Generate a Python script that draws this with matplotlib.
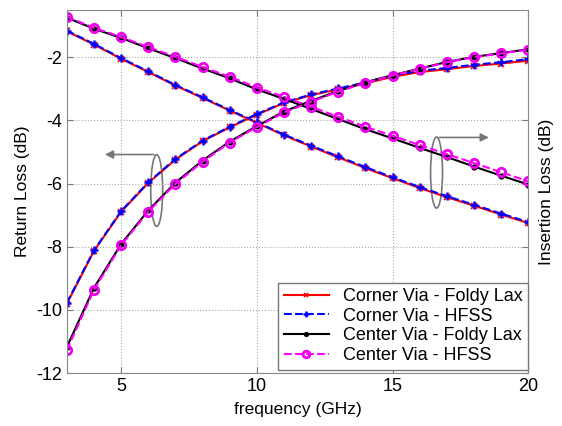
import numpy as np
import matplotlib
matplotlib.use('Agg')
import matplotlib.pyplot as plt
from matplotlib.patches import Ellipse

plt.rcParams['font.family'] = ['Liberation Sans', 'DejaVu Sans']
plt.rcParams['font.size'] = 12.5
plt.rcParams['axes.unicode_minus'] = False

# frequency points (GHz)
freq = np.arange(3, 21)

# insertion loss (dB)
il_corner_fl = [-1.18, -1.60, -2.05, -2.47, -2.90, -3.29, -3.69, -4.08, -4.47, -4.83, -5.17,
                -5.51, -5.83, -6.14, -6.43, -6.70, -6.98, -7.25]
il_corner_hfss = [-1.16, -1.58, -2.03, -2.45, -2.88, -3.27, -3.67, -4.06, -4.45, -4.80, -5.14,
                  -5.48, -5.80, -6.11, -6.40, -6.67, -6.95, -7.22]
il_center_fl = [-0.75, -1.10, -1.39, -1.72, -2.03, -2.36, -2.67, -3.02, -3.32, -3.64, -3.96,
                -4.28, -4.57, -4.87, -5.16, -5.46, -5.75, -6.03]
il_center_hfss = [-0.72, -1.07, -1.36, -1.68, -1.99, -2.31, -2.62, -2.96, -3.26, -3.57, -3.89,
                  -4.20, -4.49, -4.78, -5.07, -5.35, -5.64, -5.93]

# return loss (dB)
rl_corner_fl = [-9.80, -8.13, -6.89, -5.98, -5.24, -4.66, -4.22, -3.82, -3.45, -3.20, -3.02,
                -2.83, -2.62, -2.47, -2.38, -2.28, -2.20, -2.11]
rl_corner_hfss = [-9.77, -8.11, -6.87, -5.96, -5.22, -4.64, -4.20, -3.80, -3.43, -3.18, -2.99,
                  -2.80, -2.58, -2.43, -2.34, -2.24, -2.16, -2.06]
rl_center_fl = [-11.17, -9.30, -7.91, -6.85, -5.97, -5.27, -4.67, -4.18, -3.72, -3.38, -3.07,
                -2.79, -2.57, -2.36, -2.15, -1.99, -1.87, -1.75]
rl_center_hfss = [-11.27, -9.36, -7.95, -6.89, -6.01, -5.31, -4.70, -4.21, -3.75, -3.41, -3.09,
                  -2.81, -2.58, -2.37, -2.16, -2.00, -1.88, -1.76]

labels = ['Corner Via - Foldy Lax', 'Corner Via - HFSS',
          'Center Via - Foldy Lax', 'Center Via - HFSS']

fig = plt.figure(figsize=(5.62, 4.26), dpi=100)
ax = fig.add_axes([0.119, 0.124, 0.821, 0.853])

lw = 1.5
red_style = dict(ls='-', color='red', marker='x', ms=4, mew=1.2, lw=lw)
blue_style = dict(ls='--', color='blue', marker='+', ms=6, mew=1.8, lw=lw)
black_style = dict(ls='-', color='black', marker='.', ms=7, lw=lw)
mag_style = dict(ls='--', color='#ff00ff', marker='o', ms=6, mfc='none', mec='#ee00ee',
                 mew=2.0, lw=lw)

# corner via
ax.plot(freq, il_corner_fl, label=labels[0], **red_style)
ax.plot(freq, il_corner_hfss, label=labels[1], **blue_style)
ax.plot(freq, rl_corner_fl, **red_style)
ax.plot(freq, rl_corner_hfss, **blue_style)
# center via
ax.plot(freq, il_center_fl, label=labels[2], **black_style)
ax.plot(freq, il_center_hfss, label=labels[3], **mag_style)
ax.plot(freq, rl_center_fl, **black_style)
ax.plot(freq, rl_center_hfss, **mag_style)

ax.set_xlim(3, 20)
ax.set_ylim(-12, -0.5)
ax.set_xticks([5, 10, 15, 20])
ax.set_yticks([-12, -10, -8, -6, -4, -2])
ax.grid(True, linestyle=':', color='#aaaaaa', linewidth=0.8)
ax.tick_params(direction='in', length=4, top=True, right=True, color='#777777',
               labelsize=13)
for sp in ax.spines.values():
    sp.set_color('#888888')

ax.set_xlabel('frequency (GHz)', labelpad=5)
ax.set_ylabel('Return Loss (dB)', labelpad=4)
fig.text(0.973, 0.55, 'Insertion Loss (dB)', rotation=90, ha='center', va='center',
         fontsize=12.5)

# grouping marks: return loss curves -> left axis, insertion loss curves -> right axis
ax.add_patch(Ellipse((6.31, -6.22), 0.44, 2.27, fill=False, edgecolor='#777777', lw=1.2))
ax.annotate('', xy=(4.3, -5.08), xytext=(6.31, -5.08),
            arrowprops=dict(arrowstyle='-|>', color='#777777', lw=1.2, mutation_scale=12))
ax.add_patch(Ellipse((16.62, -5.65), 0.44, 2.25, fill=False, edgecolor='#777777', lw=1.2))
ax.annotate('', xy=(18.65, -4.54), xytext=(16.62, -4.54),
            arrowprops=dict(arrowstyle='-|>', color='#777777', lw=1.2, mutation_scale=12))

leg = ax.legend(loc='lower right', bbox_to_anchor=(1.0, 0.01), fontsize=13, fancybox=False,
                framealpha=1, borderpad=0.3, labelspacing=0.15, handlelength=2.5,
                handletextpad=0.8, borderaxespad=0.0, numpoints=1, markerscale=0.8)
leg.get_frame().set_edgecolor('#777777')

fig.savefig('out.png', dpi=100)
